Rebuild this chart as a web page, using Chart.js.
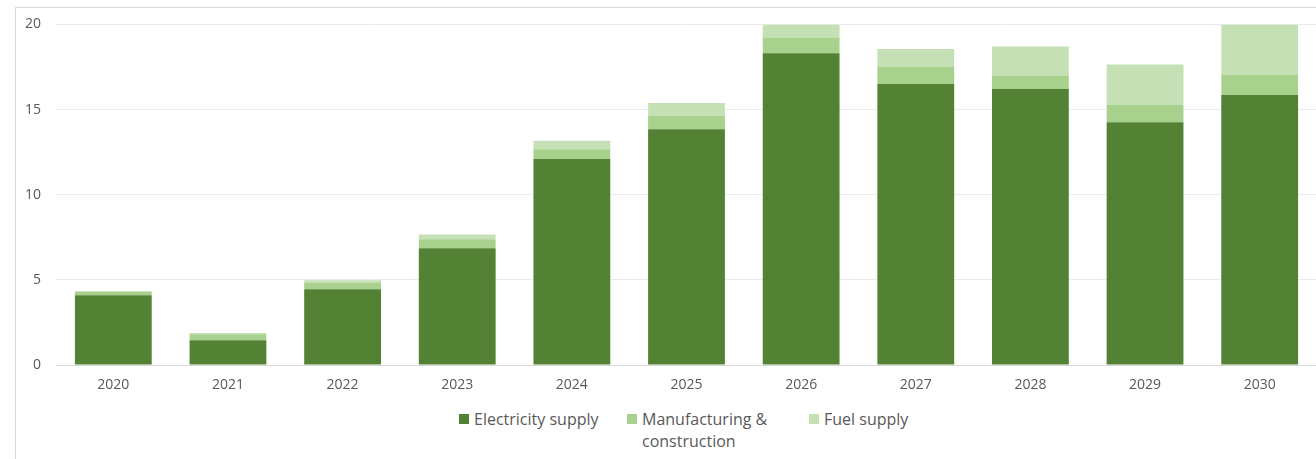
<!DOCTYPE html>
<html>
<head>
<meta charset="utf-8">
<script src="https://cdn.jsdelivr.net/npm/chart.js@4/dist/chart.umd.min.js"></script>
<style>
   html, body { margin: 0; padding: 0; background: #fff; overflow: hidden; }
   #box {
      position: absolute; left: 15px; top: 7px;
      width: 1301px; height: 460px;
      border: 1px solid #d9d9d9;
   }
   #wrap { position: relative; top: -7px; width: 1301px; height: 407px; }
   #legend {
      position: absolute; left: 443px; top: 400px;
      display: flex; align-items: flex-start;
      font-family: 'Open Sans', sans-serif; font-size: 16px; color: #595959;
      line-height: 22px;
   }
   .item { display: flex; align-items: flex-start; flex: none; }
   .sw { width: 10px; height: 10px; margin: 6px 5px 0 0; flex: none; }
</style>
</head>
<body>
<div id="box">
   <div id="wrap"><canvas id="chartMain"></canvas></div>
   <div id="legend"></div>
</div>
<script>
const years = ['2020', '2021', '2022', '2023', '2024', '2025', '2026', '2027', '2028', '2029', '2030'];
const electricity = [4.1, 1.45, 4.45, 6.85, 12.1, 13.85, 18.3, 16.5, 16.2, 14.25, 15.85];
const manufacturing = [0.2, 0.35, 0.4, 0.53, 0.57, 0.78, 0.9, 1.0, 0.8, 1.05, 1.2];
const fuel = [0.05, 0.08, 0.13, 0.29, 0.5, 0.76, 0.8, 1.05, 1.7, 2.35, 2.95];
const yTicks = [0, 5, 10, 15, 20];

const seriesNames = ['Electricity supply', 'Manufacturing &<br>construction', 'Fuel supply'];
const colors = ['#548235', '#a9d18e', '#c5e0b4'];
const legendWidths = [168, 182, 120];

const ctx = document.getElementById('chartMain').getContext('2d');
const tickFont = { family: "'Open Sans', sans-serif", size: 14 };

const chartMain = new Chart(ctx, {
   type: 'bar',
   data: {
      labels: years,
      datasets: [electricity, manufacturing, fuel].map((d, i) => ({
         label: seriesNames[i],
         data: d,
         backgroundColor: colors[i],
         borderWidth: 0,
         categoryPercentage: 1,
         barPercentage: 0.67,
      }))
   },
   options: {
      responsive: true,
      maintainAspectRatio: false,
      animation: false,
      layout: { padding: { top: 1, right: 0, bottom: 0, left: 0 } },
      scales: {
         x: {
            stacked: true,
            grid: { display: false },
            border: { display: true, color: '#d9d9d9' },
            ticks: { color: '#595959', font: tickFont, padding: 4, maxRotation: 0 },
            afterFit: (scale) => { scale.height = 43; }
         },
         y: {
            stacked: true,
            min: 0,
            max: 20,
            afterBuildTicks: (scale) => { scale.ticks = yTicks.map(v => ({ value: v })); },
            grid: { color: '#ebebeb', drawTicks: false },
            border: { display: false },
            ticks: { color: '#595959', font: tickFont, padding: 15 },
            afterFit: (scale) => { scale.width = 40; }
         }
      },
      plugins: {
         legend: { display: false },
         tooltip: { enabled: false }
      }
   }
});

// legend in html so the second entry can wrap like the original
const legend = document.getElementById('legend');
seriesNames.forEach((name, i) => {
   const item = document.createElement('div');
   item.className = 'item';
   item.style.width = legendWidths[i] + 'px';
   item.innerHTML = '<span class="sw" style="background:' + colors[i] + '"></span><span>' + name + '</span>';
   legend.appendChild(item);
});
</script>
</body>
</html>
